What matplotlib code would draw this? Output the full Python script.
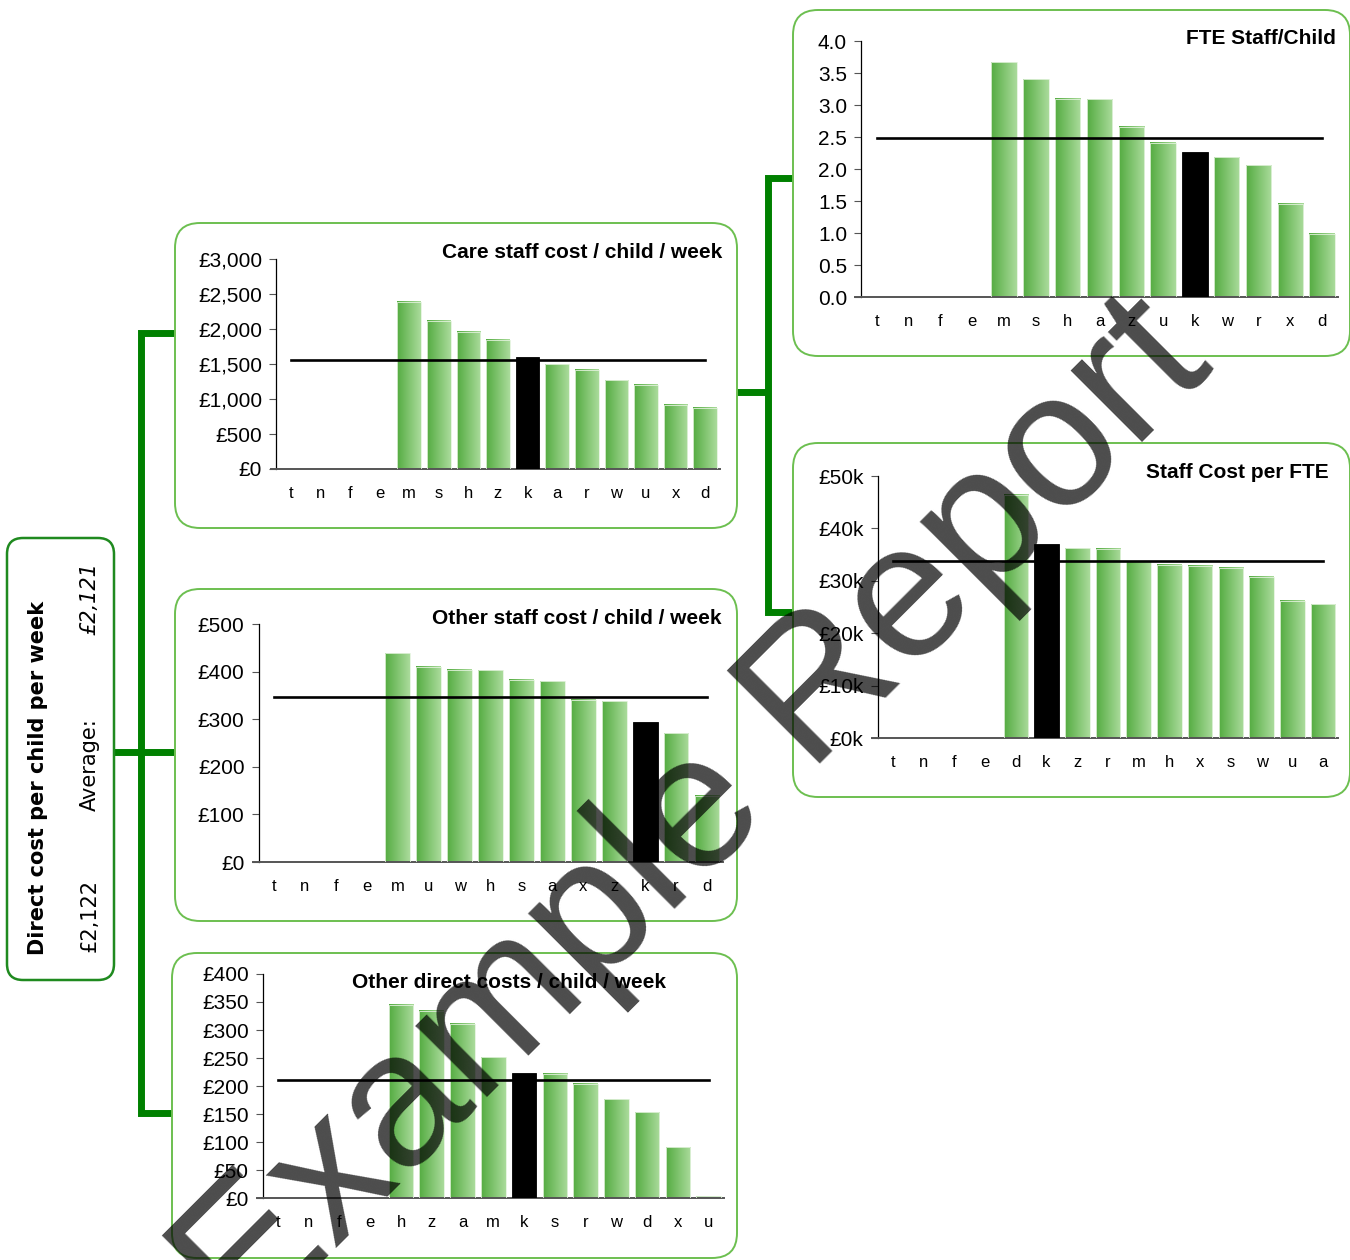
import numpy as np
import matplotlib
matplotlib.use('Agg')
import matplotlib.pyplot as plt
import matplotlib.patches as mpatches
from matplotlib.lines import Line2D
from matplotlib.colors import LinearSegmentedColormap

# ── Data ──────────────────────────────────────────────────────────────────────
care_cats = ['t', 'n', 'f', 'e', 'm', 's', 'h', 'z', 'k', 'a', 'r', 'w', 'u', 'x', 'd']
care_vals = [None, None, None, None, 2390, 2115, 1960, 1845, 1600, 1500, 1415, 1270, 1205, 918, 875]
care_avg = 1555

other_staff_cats = ['t', 'n', 'f', 'e', 'm', 'u', 'w', 'h', 's', 'a', 'x', 'z', 'k', 'r', 'd']
other_staff_vals = [None, None, None, None, 439, 410, 404, 403, 383, 380, 341, 338, 294, 271, 139]
other_staff_avg = 346

other_direct_cats = ['t', 'n', 'f', 'e', 'h', 'z', 'a', 'm', 'k', 's', 'r', 'w', 'd', 'x', 'u']
other_direct_vals = [None, None, None, None, 345, 334, 311, 251, 223, 222, 204, 176, 153, 91, 3]
other_direct_avg = 211

fte_cats = ['t', 'n', 'f', 'e', 'm', 's', 'h', 'a', 'z', 'u', 'k', 'w', 'r', 'x', 'd']
fte_vals = [None, None, None, None, 3.67, 3.40, 3.10, 3.09, 2.66, 2.41, 2.26, 2.18, 2.06, 1.46, 0.99]
fte_avg = 2.49

cpf_cats = ['t', 'n', 'f', 'e', 'd', 'k', 'z', 'r', 'm', 'h', 'x', 's', 'w', 'u', 'a']
cpf_vals = [None, None, None, None, 46.4, 37.1, 36.2, 36.1, 33.7, 33.1, 32.9, 32.5, 30.8, 26.2, 25.5]  # £k
cpf_avg = 33.8

HIGHLIGHT = 'k'

# ── Figure ────────────────────────────────────────────────────────────────────
W, H = 1350, 1260
fig = plt.figure(figsize=(W / 100, H / 100), dpi=100, facecolor='white')
plt.rcParams['font.family'] = ['Liberation Sans', 'DejaVu Sans']

TR = fig.dpi_scale_trans


def P(x, y):
    # image pixel (from top-left) -> inches
    return x / 100, (H - y) / 100


def rect(l, t, r, b):
    return [l / W, 1 - b / H, (r - l) / W, (b - t) / H]


green_cmap = LinearSegmentedColormap.from_list('bar', ['#55ac42', '#aadb9b'])
grad = np.linspace(0, 1, 64).reshape(1, -1)

BOX_EDGE = '#6cbf50'
LINK = '#008000'


def box(l, t, r, b, edge=BOX_EDGE, lw=1.4, rad=0.25):
    x0, y0 = P(l, b)
    fig.add_artist(mpatches.FancyBboxPatch(
        (x0, y0), (r - l) / 100, (b - t) / 100,
        boxstyle=f'round,pad=0,rounding_size={rad}', linewidth=lw,
        edgecolor=edge, facecolor='white', transform=TR, zorder=-2))


def link(xs, ys):
    pts = [P(x, y) for x, y in zip(xs, ys)]
    fig.add_artist(Line2D([p[0] for p in pts], [p[1] for p in pts],
                          color=LINK, lw=5, transform=TR, zorder=-3,
                          solid_capstyle='butt', solid_joinstyle='miter'))


def panel(pos, cats, vals, avg, ymax, step, fmt):
    ax = fig.add_axes(pos)
    ax.patch.set_visible(False)
    x = np.arange(len(cats))
    heights = [np.nan if v is None else v for v in vals]
    bars = ax.bar(x, heights, width=0.8, color='none', edgecolor='#e2f2dc',
                  linewidth=0.6, zorder=3)
    for c, p in zip(cats, bars.patches):
        h = p.get_height()
        if not np.isfinite(h):
            continue
        if c == HIGHLIGHT:
            p.set_facecolor('black')
            p.set_edgecolor('black')
            continue
        ax.imshow(grad, extent=(p.get_x(), p.get_x() + p.get_width(), 0, h),
                  aspect='auto', cmap=green_cmap, zorder=2, interpolation='bilinear')
    ax.plot([x[0], x[-1]], [avg, avg], color='black', lw=1.9, zorder=4)
    ax.set_xlim(-0.5, len(cats) - 0.5)
    ax.set_ylim(0, ymax)
    ax.set_yticks(np.arange(0, ymax + step / 2, step))
    ax.yaxis.set_major_formatter(plt.FuncFormatter(lambda v, _: fmt(v)))
    ax.set_xticks(x)
    ax.set_xticklabels(cats)
    ax.tick_params(axis='x', length=0, pad=12, labelsize=12)
    ax.tick_params(axis='y', length=5, width=0.8, color='#555555',
                   direction='out', pad=5, labelsize=15)
    for s in ('top', 'right'):
        ax.spines[s].set_visible(False)
    ax.spines['left'].set_linewidth(0.9)
    ax.spines['bottom'].set_color('#555555')
    ax.spines['bottom'].set_linewidth(1.4)
    ax.spines['bottom'].set_bounds(-0.5 - 0.012 * len(cats), len(cats) - 0.5)
    return ax


# ── Boxes and connectors ─────────────────────────────────────────────────────
link([114, 141], [752, 752])
link([175, 141, 141, 175], [333, 333, 1113, 1113])
link([141, 175], [752, 752])
link([737, 768], [392, 392])
link([793, 768, 768, 793], [178, 178, 612, 612])

box(7, 538, 114, 980, edge='#1f8a1f', lw=1.8, rad=0.16)
box(175, 223, 737, 528)
box(175, 589, 737, 921)
box(172, 953, 737, 1258)
box(793, 10, 1350, 356)
box(793, 443, 1350, 797)

# ── Panels ────────────────────────────────────────────────────────────────────
panel(rect(276, 259, 720, 469), care_cats, care_vals, care_avg, 3000, 500,
      lambda v: f'£{v:,.0f}')
panel(rect(258.5, 624, 722.5, 862), other_staff_cats, other_staff_vals,
      other_staff_avg, 500, 100, lambda v: f'£{v:.0f}')
panel(rect(262.6, 974, 724, 1198), other_direct_cats, other_direct_vals,
      other_direct_avg, 400, 50, lambda v: f'£{v:.0f}')
panel(rect(861, 41, 1338, 297), fte_cats, fte_vals, fte_avg, 4.0, 0.5,
      lambda v: f'{v:.1f}')
panel(rect(877.6, 476, 1338.4, 738), cpf_cats, cpf_vals, cpf_avg, 50, 10,
      lambda v: f'£{v:.0f}k')

# ── Panel titles ──────────────────────────────────────────────────────────────
titles = [
    ('Care staff cost / child / week', 722, 252),
    ('Other staff cost / child / week', 722, 618),
    ('Other direct costs / child / week', 666, 982),
    ('FTE Staff/Child', 1336, 38),
    ('Staff Cost per FTE', 1329, 473),
]
for txt, x, y in titles:
    fig.text(*P(x, y), txt, transform=TR, ha='right', va='center',
             fontsize=15, fontweight='bold')

# ── Left summary box text ────────────────────────────────────────────────────
fig.text(*P(38, 778), 'Direct cost per child per week', transform=TR,
         rotation=90, ha='center', va='center', fontsize=15,
         fontweight='bold', family='DejaVu Sans')
fig.text(*P(90, 599), '£2,121', transform=TR, rotation=90, ha='center',
         va='center', fontsize=15, style='italic', family='DejaVu Sans')
fig.text(*P(90, 765), 'Average:', transform=TR, rotation=90, ha='center',
         va='center', fontsize=15, family='DejaVu Sans')
fig.text(*P(90, 915), '£2,122', transform=TR, rotation=90, ha='center',
         va='center', fontsize=15, family='DejaVu Sans')

# ── Watermark ────────────────────────────────────────────────────────────────
fig.text(*P(730, 854), 'Example Report', transform=TR, rotation=45,
         rotation_mode='anchor', ha='center', va='baseline', fontsize=138,
         color='black', alpha=0.7, zorder=20)

fig.savefig('out.png', dpi=100, facecolor='white')
plt.close(fig)
